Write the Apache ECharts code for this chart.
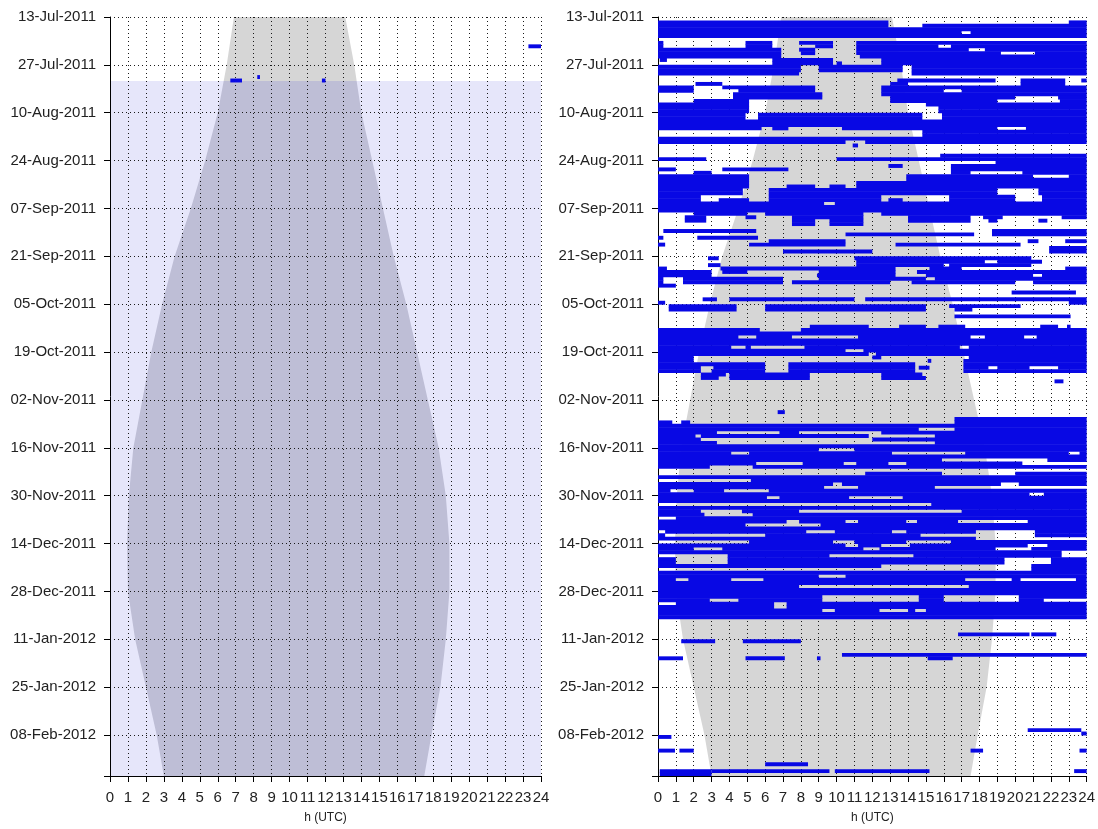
<!DOCTYPE html>
<html>
<head>
<meta charset="utf-8">
<script src="https://cdn.jsdelivr.net/npm/echarts@6/dist/echarts.min.js"></script>
<style>
  html, body { margin: 0; padding: 0; background: #ffffff; }
  #chart { width: 1098px; height: 829px; }
</style>
</head>
<body>
<div id="chart"></div>
<script>
// Day 0 = 13-Jul-2011, last day shown = 20-Feb-2012 (day 222).
const dayMax = 222;
const dateTicks = ['13-Jul-2011', '27-Jul-2011', '10-Aug-2011', '24-Aug-2011', '07-Sep-2011',
  '21-Sep-2011', '05-Oct-2011', '19-Oct-2011', '02-Nov-2011', '16-Nov-2011', '30-Nov-2011',
  '14-Dec-2011', '28-Dec-2011', '11-Jan-2012', '25-Jan-2012', '08-Feb-2012'];
const hourTicks = ['0','1','2','3','4','5','6','7','8','9','10','11','12','13','14','15','16','17',
  '18','19','20','21','22','23','24'];

// Daylight envelope (sunrise / sunset, hours UTC) by day index
const sunDays = [0, 14, 28, 42, 56, 70, 84, 98, 112, 126, 140, 154, 168, 182, 196, 210, 222];
const sunrise = [6.9, 6.5, 6.0, 5.3, 4.5, 3.6, 2.9, 2.3, 1.8, 1.3, 1.05, 0.95, 1.0, 1.4, 2.0, 2.6, 3.0];
const sunset  = [13.1, 13.6, 14.0, 14.6, 15.2, 15.8, 16.5, 17.1, 17.7, 18.3, 18.7, 18.9, 18.9, 18.7, 18.4, 17.9, 17.5];

// Observation period shown on the left panel (from day 18.7 to the end)
const coverageStart = 18.7;

// Activity rows: [day, start1, end1, start2, end2, ...] in hours UTC
const leftRows = [
  [8, 23.3, 24],
  [17, 8.2, 8.35],
  [18, 6.7, 7.35, 11.8, 12.0]
];

const rightRows = [
  [1, 0, 12.9, 23, 24],
  [2, 0, 12.9, 14.8, 24],
  [3, 0, 24],
  [4, 0, 17, 17.5, 24],
  [5, 0, 24],
  [7, 0, 0.3, 4.9, 6.4, 7.9, 9.8, 11.1, 24],
  [8, 0, 0.3, 4.9, 6.4, 8.8, 9.8, 11.1, 15.7, 16.4, 24],
  [9, 0, 6.9, 7.9, 8.8, 11.1, 17.4, 18.3, 24],
  [10, 0, 6.9, 8, 8.8, 11.1, 19.2, 21.1, 24],
  [11, 0, 6.9, 11.3, 24],
  [12, 0.1, 0.5, 6.4, 9.8, 12.5, 24],
  [13, 6.4, 9.8, 10, 10.3, 12.5, 24],
  [14, 0, 8, 9, 13.7, 14.2, 24],
  [15, 0, 8, 9, 13.7, 14.2, 24],
  [16, 0, 7.9, 14.2, 24],
  [18, 13.4, 18.9, 20.3, 22.8, 23.7, 24],
  [19, 2.1, 3.6, 13, 14, 20.3, 22.8],
  [20, 0, 2, 3.6, 8.8, 12.5, 24],
  [21, 0, 2, 4.5, 8.8, 12.5, 16, 17, 24],
  [22, 4.2, 9.2, 12.5, 24],
  [23, 4.2, 9.2, 13, 20, 22.4, 24],
  [24, 2, 5.1, 13, 19, 22.5, 24],
  [25, 0, 5.1, 15, 24],
  [26, 0, 5.1, 15.7, 24],
  [27, 0, 5.1, 15.7, 24],
  [28, 0, 4.9, 5.6, 14.8, 15.9, 24],
  [29, 0, 4.9, 5.6, 14.8, 15.9, 24],
  [30, 0, 24],
  [31, 0, 24],
  [32, 0, 5.8, 6.4, 7.3, 10.3, 19, 20.6, 24],
  [33, 14.8, 24],
  [34, 14.8, 24],
  [35, 0, 24],
  [36, 0, 10.5, 11.6, 24],
  [37, 10.9, 11.2],
  [40, 15.8, 24],
  [41, 0, 2.7, 10, 24],
  [42, 18.9, 24],
  [43, 12.9, 13.7, 16.4, 24],
  [44, 0, 1, 3.6, 7.3, 16.4, 24],
  [45, 2, 3, 16.4, 17.5, 20.4, 24],
  [46, 0, 5.1, 13.9, 21, 23, 24],
  [47, 0, 5.1, 13.9, 24],
  [48, 0, 5.1, 11.1, 24],
  [49, 0, 5.1, 7.2, 8.8, 9.6, 10.5, 11.1, 24],
  [50, 0, 4.75, 6.2, 19, 21.3, 24],
  [51, 0, 4.75, 6.2, 19, 21.3, 24],
  [52, 0, 2.4, 6.2, 12.5, 16.3, 20, 21.5, 24],
  [53, 0, 2.4, 3.4, 5.1, 6.2, 12.5, 12.9, 13.7, 16.3, 20, 21.5, 24],
  [54, 0, 9.3, 9.9, 24],
  [55, 0, 24],
  [56, 0, 24],
  [57, 2, 5, 6, 11.5, 12.5, 24],
  [58, 1.5, 2.7, 4.9, 5.5, 7.5, 11.5, 14, 17.5, 18.2, 19.3, 22.6, 24],
  [59, 1.5, 2.7, 7.5, 8.8, 9.6, 11.5, 14, 17.5, 18.5, 19, 21.3, 21.8],
  [60, 7.5, 8.8, 9.6, 11.5],
  [62, 0.3, 5.5, 18.7, 24],
  [63, 10.5, 17.7, 18.7, 24],
  [64, 0, 0.3, 2.2, 5.6],
  [65, 6.2, 10.5, 20.7, 21.3, 22.8, 24],
  [66, 0, 0.4, 5.1, 10.5, 13.3, 20.3],
  [67, 21.9, 24],
  [68, 7, 12, 21.9, 24],
  [70, 2.8, 3.4, 11, 20.9],
  [71, 11.1, 18.3, 19, 21.5],
  [72, 2.8, 3.5, 11.1, 16, 16.3, 20.9],
  [73, 0, 0.5, 3.5, 13.3, 15.2, 17, 22.8, 24],
  [74, 0, 3, 3.6, 5, 9, 13.3, 14.5, 24],
  [75, 0, 3, 8.9, 13.3, 15, 21, 21.5, 24],
  [76, 0, 0.3, 1.4, 7, 9, 15, 15.5, 24],
  [77, 0, 0.3, 1.4, 7, 7.5, 13, 14.2, 20, 21, 24],
  [78, 0, 1],
  [80, 19.8, 23.4],
  [82, 2.5, 3.3, 4, 11, 11.6, 24],
  [83, 0, 0.4, 23, 24],
  [84, 0.6, 4.4, 6, 15, 16.3, 20.3],
  [85, 0.6, 4.4, 6, 15, 16.6, 17.6],
  [87, 16.6, 23.1],
  [90, 8.5, 11.8, 13.5, 15, 15.7, 17.2, 21.4, 22.4, 22.9, 23.1],
  [91, 0, 5.7, 8, 24],
  [92, 0, 24],
  [93, 0, 4.5, 5.5, 7.5, 11.2, 17.5, 18.3, 20.5, 21.2, 24],
  [94, 0, 24],
  [95, 0, 24],
  [96, 0, 4.1, 4.9, 5.2, 8.2, 16.9, 17.4, 24],
  [97, 0, 10.5, 11.5, 24],
  [98, 0, 11.8, 12.2, 24],
  [99, 0, 2, 12, 12.5, 17.4, 24],
  [100, 0, 2, 15.1, 15.3, 17.1, 24],
  [101, 0, 6, 7.3, 14.4, 17.1, 24],
  [102, 0, 2.4, 3.1, 6, 7.3, 14.4, 14.6, 15.2, 17.1, 18.5, 19, 20.8, 22.4, 24],
  [103, 0, 2.4, 3, 6, 7.3, 14.4, 17.1, 24],
  [104, 2.4, 3.8, 4, 8.5, 12.5, 14.8],
  [105, 2.4, 3.4, 4, 8.5, 12.5, 15],
  [106, 22.2, 22.7],
  [115, 6.7, 7.1],
  [117, 16.6, 24],
  [118, 0, 0.8, 1.3, 1.8, 16.6, 24],
  [119, 0, 24],
  [120, 0, 14.6, 16.6, 24],
  [121, 0, 3.3, 6.8, 7.9, 12.5, 24],
  [122, 0, 2.1, 2.4, 11.8, 15.5, 24],
  [123, 0, 2.4, 12, 24],
  [124, 0, 3.3, 15.5, 24],
  [125, 0, 24],
  [126, 0, 9, 11, 24],
  [127, 0, 4.1, 5.1, 13.1, 17.2, 23, 23.6, 24],
  [128, 0, 24],
  [129, 0, 15.9, 21.8, 24],
  [130, 0, 5.5, 8.1, 10.4, 11.1, 12.9, 13.9, 20.4],
  [131, 0, 2.9, 5.3, 24],
  [133, 11.6, 15.9, 20, 24],
  [134, 0, 24],
  [135, 5.2, 24],
  [136, 0, 9.8, 10.3, 19.2, 20.2, 24],
  [137, 0, 9.3, 11.2, 15.5],
  [138, 0, 0.7, 2, 3.7, 6.2, 24],
  [139, 0, 20.8, 21.6, 24],
  [140, 0, 6.1, 6.8, 10.7, 13.7, 24],
  [141, 0, 24],
  [142, 15.3, 24],
  [143, 0, 24],
  [144, 0, 2.4, 4.7, 7.9, 17, 24],
  [145, 0, 2.6, 5.3, 24],
  [146, 1, 24],
  [147, 0, 7.2, 7.9, 10.5, 11.2, 13.9, 14.5, 16.8, 20.7, 24],
  [148, 0, 4.9, 9.1, 24],
  [149, 0, 24],
  [150, 0.4, 8.3, 9.9, 13.1, 13.9, 17.8, 21.1, 24],
  [151, 0, 0.4, 6, 14.7, 21.1, 24],
  [152, 0, 17.8],
  [153, 5.1, 9.8, 11, 13.9, 16.4, 24],
  [154, 0, 10.5, 11.2, 12.5, 14.1, 20.7, 21.8, 24],
  [155, 0, 2, 3.6, 11.5, 12.4, 18.9, 20.9, 24],
  [156, 0, 22.6],
  [157, 3.9, 9.6, 14.3, 22.6],
  [158, 0, 1, 3.9, 19.4, 22, 24],
  [159, 0, 1, 3.9, 19.4, 22, 24],
  [160, 0, 12.5, 20.9, 24],
  [161, 20.9, 24],
  [162, 0, 24],
  [163, 0, 9, 10.5, 24],
  [164, 0, 1, 1.7, 4.1, 5.9, 17.2, 19.8, 20.3, 23.4, 24],
  [165, 0, 24],
  [166, 0, 7.9, 17.4, 24],
  [167, 0, 24],
  [168, 0, 24],
  [169, 0, 9.2, 14.6, 16, 20.2, 24],
  [170, 0, 2.9, 4.5, 9.2, 14.6, 16, 20.2, 21.6],
  [171, 1, 6.5, 7.2, 24],
  [172, 0, 6.5, 7.2, 24],
  [173, 0, 9.2, 9.9, 12.4, 14, 14.4, 15, 24],
  [174, 0, 24],
  [175, 0, 24],
  [180, 16.8, 20.8, 20.9, 22.3],
  [182, 1.3, 3.2, 4.75, 8],
  [186, 10.3, 24],
  [187, 0, 1.4, 4.9, 7.1, 8.9, 9.1, 15.1, 16.5],
  [208, 20.7, 23.7],
  [209, 23.7, 24],
  [210, 0, 0.75],
  [214, 0, 0.95, 1.2, 2, 17.5, 18.2, 23.6, 24],
  [218, 6, 8.4],
  [220, 0.1, 3, 3, 9.6, 9.9, 15.2, 23.3, 24],
  [221, 0.1, 3]
];

const BLUE = '#0808e4';
const GRAY = '#d6d6d6';
const GRAY_ON_LAVENDER = '#bebed6';
const LAVENDER = '#e6e6fa';

// Flatten rows into [start, end, day] runs
function toRuns(rows) {
  const out = [];
  rows.forEach(function (r) {
    for (let i = 1; i + 1 < r.length; i += 2) out.push([r[i], r[i + 1], r[0]]);
  });
  return out;
}

function clipToGrid(rect, params) {
  const cs = params.coordSys;
  return echarts.graphic.clipRectByRect(rect, { x: cs.x, y: cs.y, width: cs.width, height: cs.height });
}

function renderRun(params, api) {
  const p0 = api.coord([api.value(0), api.value(2)]);
  const p1 = api.coord([api.value(1), api.value(2) + 1]);
  const rect = clipToGrid({ x: p0[0], y: p0[1], width: Math.max(p1[0] - p0[0], 1), height: p1[1] - p0[1] + 0.5 }, params);
  return rect && { type: 'rect', shape: rect, style: { fill: BLUE } };
}

function daylightRenderer(topColor, bottomColor, splitDay) {
  return function (params, api) {
    const pts = [];
    for (let i = 0; i < sunDays.length; i++) pts.push(api.coord([sunrise[i], sunDays[i]]));
    for (let i = sunDays.length - 1; i >= 0; i--) pts.push(api.coord([sunset[i], sunDays[i]]));
    const f = splitDay == null ? 1 : splitDay / dayMax;
    return {
      type: 'polygon',
      shape: { points: pts },
      style: {
        fill: new echarts.graphic.LinearGradient(0, 0, 0, 1, [
          { offset: 0, color: topColor },
          { offset: f, color: topColor },
          { offset: f, color: bottomColor },
          { offset: 1, color: bottomColor }
        ])
      }
    };
  };
}

function renderCoverage(params, api) {
  const p0 = api.coord([0, coverageStart]);
  const p1 = api.coord([24, dayMax]);
  return { type: 'rect', shape: { x: p0[0], y: p0[1], width: p1[0] - p0[0], height: p1[1] - p0[1] }, style: { fill: LAVENDER } };
}

const FONT = 'Liberation Sans';
const TEXT = '#222222';
const dotted = { color: '#1a1a1a', width: 1, type: [1, 3] };

function xAxisFor(gridIndex) {
  return {
    type: 'value', gridIndex: gridIndex, min: 0, max: 24, interval: 1,
    name: 'h (UTC)', nameLocation: 'middle', nameGap: 36,
    nameTextStyle: { fontFamily: FONT, fontSize: 12, color: TEXT },
    axisLine: { show: true, onZero: false, lineStyle: { color: '#000', width: 1 } },
    axisTick: { show: true, inside: false, length: 6, lineStyle: { color: '#000' } },
    axisLabel: { fontFamily: FONT, fontSize: 15, color: TEXT, margin: 14,
      formatter: function (v) { return hourTicks[v] || ''; } },
    splitLine: { show: true, lineStyle: dotted }
  };
}

function yAxisFor(gridIndex) {
  return {
    type: 'value', gridIndex: gridIndex, min: 0, max: dayMax, interval: 14, inverse: true,
    axisLine: { show: true, onZero: false, lineStyle: { color: '#000', width: 1 } },
    axisTick: { show: true, inside: false, length: 6, lineStyle: { color: '#000' } },
    axisLabel: { fontFamily: FONT, fontSize: 15, color: TEXT, margin: 14,
      formatter: function (v) { return v % 14 === 0 ? (dateTicks[v / 14] || '') : ''; } },
    splitLine: { show: true, lineStyle: dotted }
  };
}

const chart = echarts.init(document.getElementById('chart'), null, { renderer: 'canvas' });
chart.setOption({
  animation: false,
  backgroundColor: '#ffffff',
  grid: [
    { left: 110, top: 17, width: 431, height: 761 },
    { left: 658, top: 17, width: 431, height: 761 }
  ],
  xAxis: [xAxisFor(0), xAxisFor(1)],
  yAxis: [yAxisFor(0), yAxisFor(1)],
  series: [
    { type: 'custom', xAxisIndex: 0, yAxisIndex: 0, z: -3, silent: true,
      renderItem: renderCoverage, data: [[0]] },
    { type: 'custom', xAxisIndex: 0, yAxisIndex: 0, z: -2, silent: true,
      renderItem: daylightRenderer(GRAY, GRAY_ON_LAVENDER, coverageStart), data: [[0]] },
    { type: 'custom', xAxisIndex: 1, yAxisIndex: 1, z: -2, silent: true,
      renderItem: daylightRenderer(GRAY, GRAY, null), data: [[0]] },
    { type: 'custom', xAxisIndex: 0, yAxisIndex: 0, z: 3, silent: true,
      renderItem: renderRun, encode: { x: [0, 1], y: 2 }, data: toRuns(leftRows) },
    { type: 'custom', xAxisIndex: 1, yAxisIndex: 1, z: 3, silent: true,
      renderItem: renderRun, encode: { x: [0, 1], y: 2 }, data: toRuns(rightRows) }
  ]
});
</script>
</body>
</html>
